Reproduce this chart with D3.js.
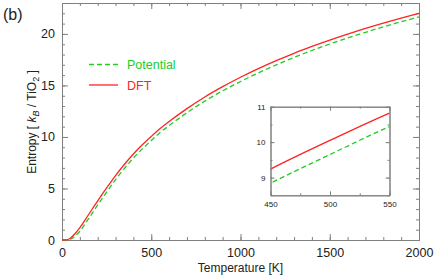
<!DOCTYPE html>
<html lang="en">
<head>
<meta charset="UTF-8" />
<title>Entropy vs temperature</title>
<script src="https://d3js.org/d3.v7.min.js"></script>
<style>
  body { margin: 0; background: #fff; }
  svg { display: block; font-family: "Liberation Sans", Arial, sans-serif; }
  .axis path, .axis line { stroke: #808080; stroke-width: 1px; }
  .axis text { fill: #222; }
</style>
</head>
<body>
<svg width="436" height="277"></svg>
<script>
// temperatures [K] and entropies [kB / TiO2]
const temps = [0, 25, 50, 75, 100, 150, 200, 250, 300, 350, 400, 450, 500, 550, 600,
  700, 800, 900, 1000, 1100, 1200, 1300, 1400, 1500, 1600, 1700, 1800, 1900, 2000];
const sDFT = [0, 0.02, 0.22, 0.65, 1.2, 2.5, 3.8, 5.05, 6.25, 7.35, 8.35, 9.24, 10.05, 10.82, 11.5,
  12.75, 13.88, 14.88, 15.79, 16.63, 17.4, 18.12, 18.78, 19.4, 19.98, 20.53, 21.05, 21.54, 22.0];
const sPot = [0, 0.01, 0.1, 0.4, 0.85, 2.1, 3.4, 4.65, 5.85, 6.95, 7.95, 8.84, 9.65, 10.44, 11.1,
  12.35, 13.48, 14.48, 15.38, 16.22, 16.99, 17.72, 18.39, 19.02, 19.6, 20.16, 20.68, 21.18, 21.65];

const xTicks = [0, 500, 1000, 1500, 2000];
const yTicks = [0, 5, 10, 15, 20];
const insetXTicks = [450, 500, 550];
const insetYTicks = [9, 10, 11];

const seriesNames = ["Potential", "DFT"];

const red = "#ff2222";
const green = "#22cc22";

const svg = d3.select("svg");

const x = d3.scaleLinear().domain([0, 2000]).range([62, 419]);
const y = d3.scaleLinear().domain([0, 23]).range([240, 3]);

// minor ticks first, then major ticks on top
function addAxis(axisFn, scale, tx, ty, vals, size, fmt, fontSize) {
  const g = svg.append("g").attr("class", "axis")
    .attr("transform", `translate(${tx},${ty})`)
    .call(axisFn(scale).tickValues(vals).tickSizeInner(size).tickSizeOuter(0)
      .tickPadding(fmt ? 4 : 0).tickFormat(fmt || (() => "")));
  g.selectAll("text").style("font-size", fontSize + "px");
  return g;
}

const xMinor = d3.range(0, 2001, 100);
const yMinor = d3.range(0, 23.01, 1);

addAxis(d3.axisBottom, x, 0, 240, xMinor, -3, null, 0);
addAxis(d3.axisTop, x, 0, 3, xMinor, -3, null, 0);
addAxis(d3.axisLeft, y, 62, 0, yMinor, -3, null, 0);
addAxis(d3.axisRight, y, 419, 0, yMinor, -3, null, 0);

const xb = addAxis(d3.axisBottom, x, 0, 240, xTicks, -6, d3.format("d"), 12.5);
xb.selectAll("text").attr("y", 8);
addAxis(d3.axisTop, x, 0, 3, xTicks, -6, null, 0);
const yl = addAxis(d3.axisLeft, y, 62, 0, yTicks, -6, d3.format("d"), 12.5);
yl.selectAll("text").attr("x", -7);
addAxis(d3.axisRight, y, 419, 0, yTicks, -6, null, 0);

const line = (xs, ys, vals) => d3.line()
  .x((d, i) => xs(temps[i]))
  .y(d => ys(d))
  .curve(d3.curveMonotoneX)(vals);

svg.append("path").attr("d", line(x, y, sPot))
  .attr("fill", "none").attr("stroke", green).attr("stroke-width", 1.3)
  .attr("stroke-dasharray", "5,3");
svg.append("path").attr("d", line(x, y, sDFT))
  .attr("fill", "none").attr("stroke", red).attr("stroke-width", 1.3);

// axis titles
svg.append("text")
  .attr("x", 240.5).attr("y", 272)
  .attr("text-anchor", "middle")
  .style("font-size", "12px").attr("fill", "#222")
  .text("Temperature [K]");

const yt = svg.append("text")
  .attr("transform", "translate(36,122) rotate(-90)")
  .attr("text-anchor", "middle")
  .style("font-size", "12px").attr("fill", "#222");
yt.append("tspan").text("Entropy [ ");
yt.append("tspan").attr("font-style", "italic").text("k");
yt.append("tspan").attr("font-style", "italic").attr("dy", 3).style("font-size", "9px").text("B");
yt.append("tspan").attr("dy", -3).text(" / TiO");
yt.append("tspan").attr("dy", 3).style("font-size", "9px").text("2");
yt.append("tspan").attr("dy", -3).text(" ]");

svg.append("text")
  .attr("x", 3).attr("y", 20)
  .style("font-size", "16px").attr("fill", "#222")
  .text("(b)");

// legend
const legend = svg.append("g");
seriesNames.forEach((name, i) => {
  const col = i === 0 ? green : red;
  const ly = 64.5 + i * 20.5;
  legend.append("line")
    .attr("x1", 89).attr("x2", 118).attr("y1", ly).attr("y2", ly)
    .attr("stroke", col).attr("stroke-width", 1.3)
    .attr("stroke-dasharray", i === 0 ? "5,3" : null);
  legend.append("text")
    .attr("x", 127).attr("y", ly + 4.5)
    .style("font-size", "12.5px").attr("fill", col)
    .text(name);
});

// inset
const ix = d3.scaleLinear().domain([450, 550]).range([270.5, 389.5]);
const iy = d3.scaleLinear().domain([8.5, 11]).range([195.3, 106.7]);

svg.append("rect")
  .attr("x", 270.5).attr("y", 106.7).attr("width", 119).attr("height", 88.6)
  .attr("fill", "#fff");

svg.append("clipPath").attr("id", "insetClip")
  .append("rect").attr("x", 270.5).attr("y", 106.7).attr("width", 119).attr("height", 88.6);

const ins = svg.append("g").attr("clip-path", "url(#insetClip)");
ins.append("path").attr("d", line(ix, iy, sPot))
  .attr("fill", "none").attr("stroke", green).attr("stroke-width", 1.3)
  .attr("stroke-dasharray", "5,3");
ins.append("path").attr("d", line(ix, iy, sDFT))
  .attr("fill", "none").attr("stroke", red).attr("stroke-width", 1.3);

const ixMinor = d3.range(450, 551, 25);
const iyMinor = d3.range(8.5, 11.01, 0.5);
addAxis(d3.axisBottom, ix, 0, 195.3, ixMinor, -2, null, 0);
addAxis(d3.axisTop, ix, 0, 106.7, ixMinor, -2, null, 0);
addAxis(d3.axisLeft, iy, 270.5, 0, iyMinor, -2, null, 0);
addAxis(d3.axisRight, iy, 389.5, 0, iyMinor, -2, null, 0);

const ixb = addAxis(d3.axisBottom, ix, 0, 195.3, insetXTicks, -4, d3.format("d"), 8);
ixb.selectAll("text").attr("y", 6);
addAxis(d3.axisTop, ix, 0, 106.7, insetXTicks, -4, null, 0);
const iyl = addAxis(d3.axisLeft, iy, 270.5, 0, insetYTicks, -4, d3.format("d"), 8);
iyl.selectAll("text").attr("x", -5);
addAxis(d3.axisRight, iy, 389.5, 0, insetYTicks, -4, null, 0);
</script>
</body>
</html>
